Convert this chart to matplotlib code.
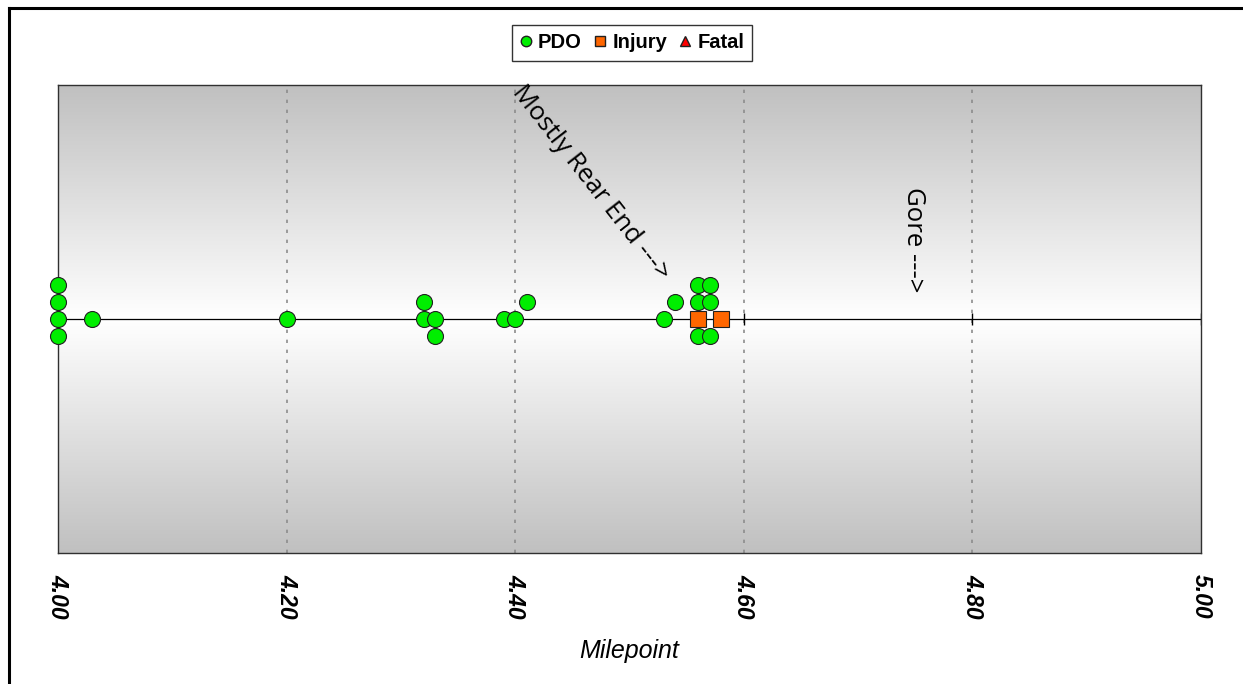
import numpy as np
import matplotlib
matplotlib.use('Agg')
import matplotlib.pyplot as plt
from matplotlib.lines import Line2D

plt.rcParams['font.family'] = ['Liberation Sans', 'DejaVu Sans']

# ── Data ──────────────────────────────────────────────────────────────────────
# crash milepoints and their stacking level (0 = on the centre line)
pdo_mp    = [4.00, 4.00, 4.00, 4.00, 4.03, 4.20, 4.32, 4.32, 4.33, 4.33,
             4.39, 4.40, 4.41, 4.53, 4.54, 4.56, 4.56, 4.56, 4.57, 4.57, 4.57]
pdo_level = [2, 1, 0, -1, 0, 0, 1, 0, 0, -1,
             0, 0, 1, 0, 1, 2, 1, -1, 2, 1, -1]
injury_mp    = [4.56, 4.58]
injury_level = [0, 0]
fatal_mp    = []
fatal_level = []

x_ticks = [4.00, 4.20, 4.40, 4.60, 4.80, 5.00]
x_label = 'Milepoint'
notes = [('Mostly Rear End --->', 4.466, 8.0, -52),
         ('Gore --->', 4.748, 4.65, -90)]

# ── Figure ────────────────────────────────────────────────────────────────────
fig = plt.figure(figsize=(12.43, 6.84), dpi=100)
ax = fig.add_axes([0.0467, 0.1915, 0.9196, 0.6842])

ylim = 13.76
ax.set_xlim(4.0, 5.0)
ax.set_ylim(-ylim, ylim)

# grey -> white -> grey background
t = np.linspace(-1, 1, 400)
shade = (192 + 63 * (1 - np.abs(t))) / 255.0
grad = np.repeat(shade[:, None, None], 3, axis=2).repeat(2, axis=1)
ax.imshow(grad, extent=[4.0, 5.0, -ylim, ylim], aspect='auto',
          origin='lower', zorder=0, interpolation='bilinear')

for x in x_ticks[1:-1]:
    ax.axvline(x, color='#8c8c8c', lw=1.2, ls=(0, (2, 4)), zorder=1)

ax.axhline(0, color='black', lw=0.9, zorder=2)
ax.vlines(x_ticks, -0.35, 0.35, color='black', lw=1.0, zorder=2)

ax.plot(pdo_mp, pdo_level, 'o', color='#00ee00', mec='#202020', mew=0.8,
        ms=11.5, zorder=3, clip_on=False)
ax.plot(injury_mp, injury_level, 's', color='#ff6600', mec='#202020', mew=0.8,
        ms=11.5, zorder=3, clip_on=False)
ax.plot(fatal_mp, fatal_level, '^', color='#ff0000', mec='#202020', mew=0.8,
        ms=11.5, zorder=3, clip_on=False)

for txt, x, y, rot in notes:
    ax.text(x, y, txt, rotation=rot, rotation_mode='anchor', ha='center',
            va='center', fontsize=18.5, family=['Open Sans', 'DejaVu Sans'],
            zorder=4)

ax.set_xticks(x_ticks)
ax.set_xticklabels([f'{v:.2f}' for v in x_ticks], rotation=-90,
                   fontsize=16.5, fontweight='bold', style='italic')
ax.tick_params(axis='x', length=0, pad=15)
ax.set_yticks([])
ax.set_xlabel(x_label, fontsize=18, style='italic', labelpad=15)
for s in ax.spines.values():
    s.set_color('#303030')
    s.set_linewidth(1.0)

handles = [
    Line2D([], [], marker='o', ls='', color='#00ee00', mec='#202020', ms=7.5, label='PDO'),
    Line2D([], [], marker='s', ls='', color='#ff6600', mec='#202020', ms=7.5, label='Injury'),
    Line2D([], [], marker='^', ls='', color='#ff0000', mec='#202020', ms=7.5, label='Fatal'),
]
leg = fig.legend(handles=handles, loc='center', bbox_to_anchor=(632 / 1243, 1 - 43 / 684),
                 ncol=3, frameon=True, fancybox=False, handlelength=0.6,
                 handletextpad=0.3, columnspacing=0.6, borderpad=0.4,
                 prop={'weight': 'bold', 'size': 14.5})
leg.get_frame().set_edgecolor('black')
leg.get_frame().set_linewidth(1.0)

# outer frame (only left and top edges fall inside the picture)
fig.add_artist(Line2D([9 / 1243, 9 / 1243], [0, 1 - 8 / 684], color='black', lw=2.2))
fig.add_artist(Line2D([9 / 1243, 1], [1 - 8 / 684, 1 - 8 / 684], color='black', lw=2.2))

fig.savefig('out.png', dpi=100)
